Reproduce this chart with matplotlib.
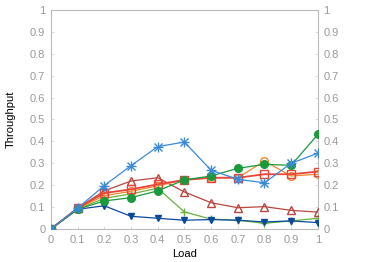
import numpy as np
import matplotlib.pyplot as plt

plt.rcParams["font.family"] = ["Liberation Sans", "DejaVu Sans"]

# Data
load = [0, 0.1, 0.2, 0.3, 0.4, 0.5, 0.6, 0.7, 0.8, 0.9, 1.0]
star_blue = [0, 0.095, 0.198, 0.289, 0.376, 0.397, 0.268, 0.227, 0.211, 0.300, 0.346]
triangle_brown = [0, 0.095, 0.174, 0.219, 0.234, 0.169, 0.120, 0.097, 0.102, 0.085, 0.077]
square_red = [0, 0.095, 0.164, 0.181, 0.204, 0.224, 0.234, 0.234, 0.250, 0.250, 0.262]
circle_orange = [0, 0.093, 0.152, 0.172, 0.197, 0.224, 0.234, 0.234, 0.310, 0.242, 0.250]
circle_green = [0, 0.090, 0.128, 0.143, 0.174, 0.224, 0.242, 0.277, 0.295, 0.291, 0.432]
plus_green = [0, 0.090, 0.140, 0.160, 0.186, 0.078, 0.045, 0.040, 0.026, 0.037, 0.049]
tri_down_blue = [0, 0.090, 0.106, 0.058, 0.049, 0.040, 0.043, 0.040, 0.032, 0.037, 0.029]

ticks = [0, 0.1, 0.2, 0.3, 0.4, 0.5, 0.6, 0.7, 0.8, 0.9, 1]
tick_labels = ["0", "0.1", "0.2", "0.3", "0.4", "0.5", "0.6", "0.7", "0.8", "0.9", "1"]

fig = plt.figure(figsize=(3.74, 2.62), dpi=100)
ax = fig.add_axes([0.136, 0.126, 0.714, 0.836])

lw = 0.9
ms = 5.5
ax.plot(load, plus_green, color="#6ab23e", marker="+", lw=lw, ms=ms, zorder=3)
ax.plot(load, tri_down_blue, color="#0b4a9b", marker="v", lw=lw, ms=4.5, zorder=3)
ax.plot(load, triangle_brown, color="#b8473f", marker="^", mfc="none", lw=lw, ms=ms, zorder=3)
ax.plot(load, circle_orange, color="#f0892e", marker="o", mfc="none", lw=lw, ms=ms, zorder=3)
ax.plot(load, square_red, color="#e8443a", marker="s", mfc="none", lw=1.3, ms=ms, zorder=4)
ax.plot(load, circle_green, color="#1a9a3c", marker="o", lw=lw, ms=ms, zorder=4)
ax.plot(load, star_blue, color="#3b8ad8", marker="x", lw=lw, ms=ms, zorder=5)
ax.plot(load, star_blue, color="#3b8ad8", marker="+", lw=0, ms=ms + 1, zorder=5)

ax.set_xlim(0, 1)
ax.set_ylim(0, 1)
ax.set_xticks(ticks)
ax.set_xticklabels(tick_labels)
ax.set_yticks(ticks)
ax.set_yticklabels(tick_labels)
ax.set_xlabel("Load", fontsize=8, labelpad=3)
ax.set_ylabel("Throughput", fontsize=8, labelpad=10)

gray = "#999999"
ax.tick_params(axis="both", direction="in", length=2, width=0.5, colors="#cccccc",
               labelcolor=gray, labelsize=8, pad=4, right=True, labelright=True)
for side in ["left", "bottom", "top", "right"]:
    ax.spines[side].set_color("#bbbbbb")
    ax.spines[side].set_linewidth(0.8)

fig.savefig("out.png", dpi=100)
